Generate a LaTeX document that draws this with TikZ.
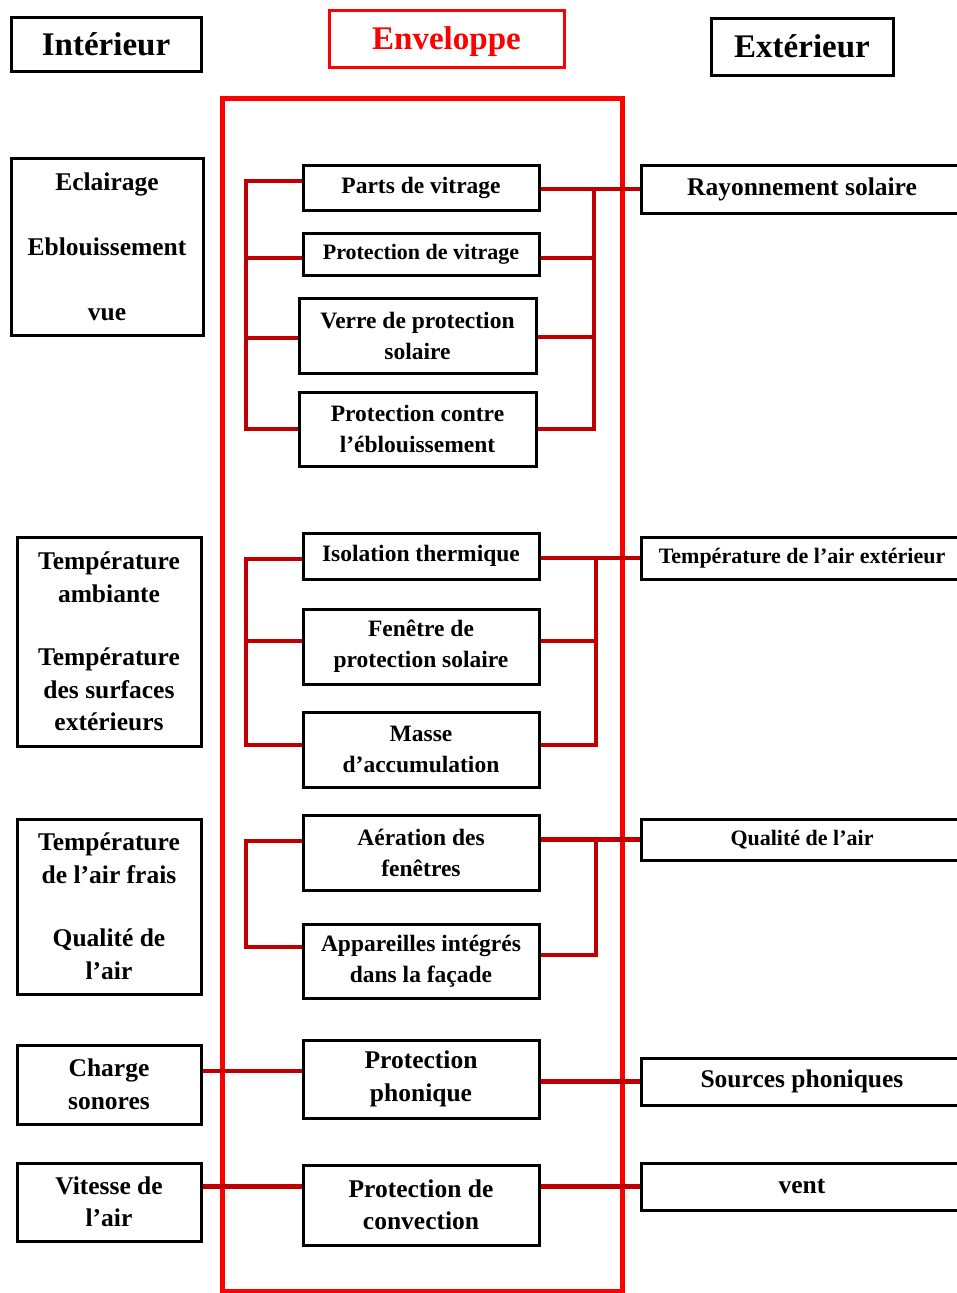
\documentclass[tikz,border=0pt]{standalone}
\usepackage{fontspec}
\setmainfont{Liberation Serif}
\usetikzlibrary{calc}
\definecolor{framered}{HTML}{FF0000}
\definecolor{linkred}{HTML}{C00000}
\begin{document}
\begin{tikzpicture}[x=1pt,y=-1pt,
  box/.style={draw=black,line width=3pt,fill=white,inner sep=0pt,align=center},
  big/.style={font=\fontsize{33}{40}\selectfont\bfseries},
  side/.style={font=\fontsize{25.5}{32.5}\selectfont\bfseries},
  mid/.style={font=\fontsize{23.5}{31}\selectfont\bfseries},
  small/.style={font=\fontsize{22}{28}\selectfont\bfseries},
  midbox/.style={box,mid,minimum width=236pt},
  outbox/.style={box,minimum width=322pt},
  wire/.style={draw=linkred,line width=4.5pt},
]
\fill[white] (0,0) rectangle (956,1293);
\useasboundingbox (0,0) rectangle (956,1293);

% column headers
\node[box,big,minimum width=190pt,minimum height=54pt] (hin) at (106,44) {Intérieur};
\node[box,big,draw=framered,text=framered,text depth=0pt,minimum width=235pt,minimum height=57pt] (hen) at (446.5,38.5) {Enveloppe};
\node[box,big,minimum width=182pt,minimum height=57pt] (hex) at (802,46.5) {Extérieur};

% envelope frame
\draw[draw=framered,line width=5pt] (222,98) rectangle (622,1291);

% interior factors
\node[box,side,minimum width=192pt,minimum height=177pt] (ecl) at (107,246.5)
  {Eclairage\\[32.5pt]Eblouissement\\[32.5pt]vue};
\node[box,side,minimum width=184pt,minimum height=209pt] (tam) at (109,641.5)
  {Température\\ambiante\\[31pt]Température\\des surfaces\\extérieurs};
\node[box,side,minimum width=184pt,minimum height=175pt] (taf) at (109,906.5)
  {Température\\de l’air frais\\[31pt]Qualité de\\l’air};
\node[box,side,minimum width=184pt,minimum height=79pt] (chg) at (109,1084.5) {Charge\\sonores};
\node[box,side,minimum width=184pt,minimum height=78pt] (vit) at (109,1202) {Vitesse de\\l’air};

% envelope components
\node[midbox,minimum height=45pt] (pvit) at (421,187.5) {Parts de vitrage};
\node[midbox,small,minimum height=42pt] (prv) at (421,254) {Protection de vitrage};
\node[midbox,minimum width=237pt,minimum height=75pt] (ver) at (417.5,335.5) {Verre de protection\\solaire};
\node[midbox,minimum width=237pt,minimum height=74pt] (pce) at (417.5,429) {Protection contre\\l’éblouissement};
\node[midbox,minimum height=46pt] (iso) at (421,556) {Isolation thermique};
\node[midbox,minimum height=75pt] (fen) at (421,646.5) {Fenêtre de\\protection solaire};
\node[midbox,minimum height=75pt] (mas) at (421,749.5) {Masse\\d’accumulation};
\node[midbox,minimum height=75pt] (aer) at (421,852.5) {Aération des\\fenêtres};
\node[midbox,minimum height=74pt] (app) at (421,961) {Appareilles intégrés\\dans la façade};
\node[midbox,side,minimum height=78pt] (pph) at (421,1079) {Protection\\phonique};
\node[midbox,side,minimum height=80pt] (pco) at (421,1205) {Protection de\\convection};

% exterior factors
\node[outbox,side,minimum height=48pt] (ray) at (802,189) {Rayonnement solaire};
\node[outbox,small,minimum height=42pt] (tex) at (802,558) {Température de l’air extérieur};
\node[outbox,small,minimum height=41pt] (qua) at (802,839.5) {Qualité de l’air};
\node[outbox,side,minimum height=47pt] (src) at (802,1081.5) {Sources phoniques};
\node[outbox,side,minimum height=47pt] (ven) at (802,1186.5) {vent};

% bus positions
\coordinate (bl) at (246,0);
\coordinate (br1) at (594,0);
\coordinate (br2) at (596,0);

% glazing group
\draw[wire] ([yshift=6.5pt]pvit.west) -| (bl |- pce.west) -- (pce.west);
\draw[wire] ([yshift=-4pt]prv.west -| bl) -- ([yshift=-4pt]prv.west);
\draw[wire] ([yshift=-2.5pt]ver.west -| bl) -- ([yshift=-2.5pt]ver.west);
\draw[wire] (pvit.east |- ray.west) -- (ray.west);
\draw[wire] (br1 |- ray.west) -- (br1 |- pce.east) -- (pce.east);
\draw[wire] ([yshift=-4pt]prv.east) -- ([yshift=-4pt]prv.east -| br1);
\draw[wire] ([yshift=-1.5pt]ver.east) -- ([yshift=-1.5pt]ver.east -| br1);

% thermal group
\draw[wire] ([yshift=-3pt]iso.west) -| (bl |- 0,745) -- ([yshift=4.5pt]mas.west);
\draw[wire] ([yshift=5.5pt]fen.west -| bl) -- ([yshift=5.5pt]fen.west);
\draw[wire] (iso.east |- tex.west) -- (tex.west);
\draw[wire] (br2 |- tex.west) -- (br2 |- 0,745) -- ([yshift=4.5pt]mas.east);
\draw[wire] ([yshift=5.5pt]fen.east) -- ([yshift=5.5pt]fen.east -| br2);

% ventilation group
\draw[wire] ([yshift=11.5pt]aer.west) -| (bl |- 0,947) -- ([yshift=14pt]app.west);
\draw[wire] (aer.east |- qua.west) -- (qua.west);
\draw[wire] (br2 |- qua.west) -- (br2 |- 0,955) -- ([yshift=6pt]app.east);

% acoustic and convection links
\draw[wire] (chg.east |- 0,1071) -- ([yshift=8pt]pph.west);
\draw[wire] (pph.east |- src.west) -- (src.west);
\draw[wire] (vit.east |- ven.west) -- (pco.west |- ven.west);
\draw[wire] (pco.east |- ven.west) -- (ven.west);
\end{tikzpicture}
\end{document}
